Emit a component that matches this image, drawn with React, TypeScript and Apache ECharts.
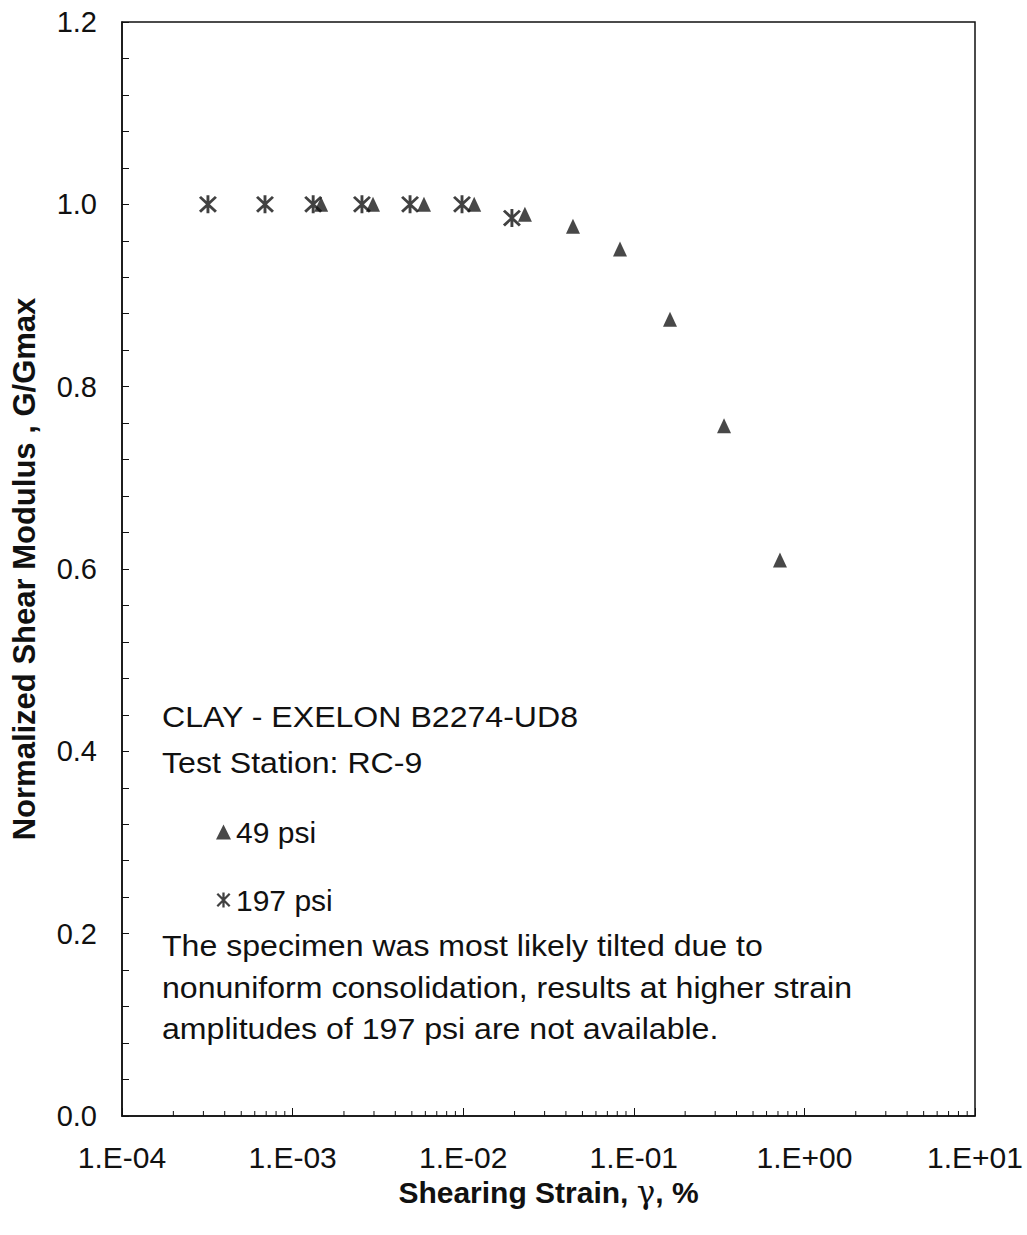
import React, { useEffect, useRef } from "react";
import * as echarts from "echarts";

// ---- data ----
const psi49X = [0.00147, 0.00296, 0.00589, 0.0116, 0.023, 0.044, 0.083, 0.163, 0.338, 0.719];
const psi49Y = [1.0, 1.0, 1.0, 1.0, 0.989, 0.976, 0.951, 0.874, 0.757, 0.61];
const psi197X = [0.000319, 0.000689, 0.00132, 0.00255, 0.00488, 0.00984, 0.0193];
const psi197Y = [1.0, 1.0, 1.0, 1.0, 1.0, 1.0, 0.985];

const decades = [1e-4, 1e-3, 1e-2, 1e-1, 1];
const minorMultipliers = [2, 3, 4, 5, 6, 7, 8, 9];

const titleLines = ["CLAY - EXELON B2274-UD8", "Test Station: RC-9"];
const noteLines = [
  "The specimen was most likely tilted due to",
  "nonuniform consolidation, results at higher strain",
  "amplitudes of 197 psi are not available.",
];
const seriesNames = ["49 psi", "197 psi"];

const ASTERISK =
  "path://M-1.2,-8 L1.2,-8 L1.2,8 L-1.2,8 Z " +
  "M-7.45,-5.75 L-5.75,-7.45 L7.45,5.75 L5.75,7.45 Z " +
  "M-5.75,7.45 L-7.45,5.75 L5.75,-7.45 L7.45,-5.75 Z";

const FONT = "'Liberation Sans', Arial, sans-serif";

function fmtExp(v: number) {
  const e = Math.round(Math.log10(v));
  const sign = e < 0 ? "-" : "+";
  const a = Math.abs(e);
  return "1.E" + sign + (a < 10 ? "0" + a : "" + a);
}

export default function App() {
  const ref = useRef<HTMLDivElement>(null);
  useEffect(() => {
    if (!ref.current) return;
    const chart = echarts.init(ref.current, undefined, { renderer: "svg" });
    const minorTicks: number[][] = [];
    decades.forEach((d) => minorMultipliers.forEach((m) => minorTicks.push([d * m, 0])));

    const graphics: any[] = [];
    const textStyle = (t: string) => ({
      text: t,
      fontSize: 30,
      fontFamily: FONT,
      fill: "#111",
      verticalAlign: "middle",
      align: "left",
    });
    titleLines.forEach((t, i) => {
      graphics.push({ type: "text", x: 162, y: 717 + i * 46, scaleX: 1.07, style: textStyle(t) });
    });
    noteLines.forEach((t, i) => {
      graphics.push({ type: "text", x: 162, y: 946 + i * 41.5, scaleX: 1.07, style: textStyle(t) });
    });

    chart.setOption({
      animation: false,
      backgroundColor: "#fff",
      textStyle: { fontFamily: FONT, color: "#111" },
      grid: {
        left: 122,
        top: 22,
        right: 52,
        bottom: 119,
        show: true,
        borderColor: "#111",
        borderWidth: 1.5,
        containLabel: false,
      },
      legend: {
        orient: "vertical",
        left: 211,
        top: 812,
        itemGap: 38,
        itemWidth: 15,
        itemHeight: 15,
        data: [
          { name: seriesNames[0], icon: "triangle" },
          { name: seriesNames[1], icon: ASTERISK },
        ],
        textStyle: { fontSize: 30, fontFamily: FONT, color: "#111", lineHeight: 30 },
      },
      xAxis: {
        type: "log",
        logBase: 10,
        min: 1e-4,
        max: 10,
        name: "Shearing Strain, {g|γ}, %",
        nameLocation: "middle",
        nameGap: 54,
        nameTextStyle: {
          fontSize: 30,
          fontWeight: "bold",
          fontFamily: FONT,
          color: "#111",
          rich: { g: { fontSize: 31, fontFamily: "'DejaVu Serif', 'Liberation Serif', serif", fontWeight: "normal", color: "#111" } },
        },
        axisLine: { lineStyle: { color: "#111", width: 1.5 } },
        axisTick: { inside: true, length: 8, lineStyle: { color: "#111", width: 1 } },
        minorTick: { show: false },
        splitLine: { show: false },
        axisLabel: { fontSize: 30, color: "#111", margin: 26, formatter: (v: number) => fmtExp(v) },
      },
      yAxis: {
        type: "value",
        min: 0,
        max: 1.2,
        interval: 0.2,
        name: "Normalized Shear Modulus , G/Gmax",
        nameLocation: "middle",
        nameGap: 82,
        nameTextStyle: { fontSize: 31, fontWeight: "bold", fontFamily: FONT, color: "#111" },
        axisLine: { show: true, lineStyle: { color: "#111", width: 1.5 } },
        axisTick: { show: true, inside: true, length: 7, lineStyle: { color: "#111", width: 1 } },
        minorTick: { show: true, splitNumber: 5, length: 7, lineStyle: { color: "#111", width: 1 } },
        splitLine: { show: false },
        minorSplitLine: { show: false },
        axisLabel: { fontSize: 29, color: "#111", margin: 25, formatter: (v: number) => v.toFixed(1) },
      },
      series: [
        {
          type: "custom",
          silent: true,
          z: 1,
          data: minorTicks,
          renderItem: (params: any, api: any) => {
            const p = api.coord([api.value(0), 0]);
            return {
              type: "line",
              shape: { x1: p[0], y1: p[1], x2: p[0], y2: p[1] - 5 },
              style: { stroke: "#111", lineWidth: 1 },
            };
          },
        },
        {
          name: seriesNames[0],
          type: "scatter",
          symbol: "triangle",
          symbolSize: [14, 15],
          itemStyle: { color: "#1a1a1a" },
          data: psi49X.map((x, i) => [x, psi49Y[i]]),
          z: 3,
        },
        {
          name: seriesNames[1],
          type: "scatter",
          symbol: ASTERISK,
          symbolSize: [18, 18],
          itemStyle: { color: "#111" },
          data: psi197X.map((x, i) => [x, psi197Y[i]]),
          z: 4,
        },
      ],
      graphic: graphics,
    });
    return () => chart.dispose();
  }, []);
  return (
    <div
      ref={ref}
      style={{ position: "absolute", left: 0, top: 0, width: 1027, height: 1235, background: "#fff" }}
    />
  );
}
